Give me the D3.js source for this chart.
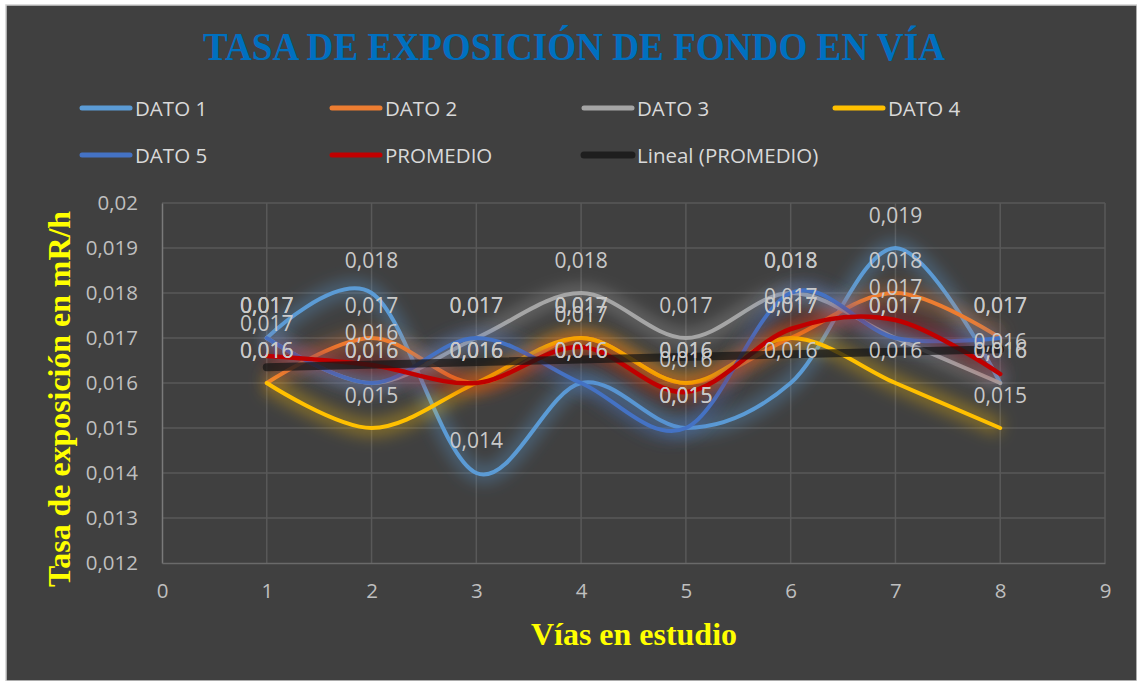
<!DOCTYPE html>
<html>
<head>
<meta charset="utf-8">
<script src="https://cdn.jsdelivr.net/npm/d3@7"></script>
<style>
  html, body { margin: 0; padding: 0; background: #ffffff; }
  svg { display: block; }
</style>
</head>
<body>
<svg id="chart" width="1137" height="681"></svg>
<script>
// ---------- DATA ----------
const xValues   = [1, 2, 3, 4, 5, 6, 7, 8];
const dato1     = [0.017, 0.018, 0.014, 0.016, 0.015, 0.016, 0.019, 0.016];
const dato2     = [0.016, 0.017, 0.016, 0.017, 0.016, 0.017, 0.018, 0.017];
const dato3     = [0.017, 0.016, 0.017, 0.018, 0.017, 0.018, 0.017, 0.016];
const dato4     = [0.016, 0.015, 0.016, 0.017, 0.016, 0.017, 0.016, 0.015];
const dato5     = [0.017, 0.016, 0.017, 0.016, 0.015, 0.018, 0.017, 0.017];
const promedio  = [0.0166, 0.0164, 0.0160, 0.0168, 0.0158, 0.0172, 0.0174, 0.0162];
const seriesNames  = ["DATO 1", "DATO 2", "DATO 3", "DATO 4", "DATO 5", "PROMEDIO"];
const seriesColors = ["#5B9BD5", "#ED7D31", "#A5A5A5", "#FFC000", "#4472C4", "#C00000"];
const trendName = "Lineal (PROMEDIO)";
const xTicks = [0, 1, 2, 3, 4, 5, 6, 7, 8, 9];
const yTicks = [0.012, 0.013, 0.014, 0.015, 0.016, 0.017, 0.018, 0.019, 0.02];
const yTickLabels = ["0,012", "0,013", "0,014", "0,015", "0,016", "0,017", "0,018", "0,019", "0,02"];
const titleText = "TASA DE EXPOSICIÓN DE FONDO EN VÍA";
const xTitle = "Vías en estudio";
const yTitle = "Tasa de exposición en mR/h";

// ---------- SETUP ----------
const svg = d3.select("#chart");
const W = 1137, H = 681;
const sans = "'Open Sans', 'Noto Sans', sans-serif";
const serif = "'Liberation Serif', 'DejaVu Serif', serif";

// frame
svg.append("rect").attr("x", 0).attr("y", 0).attr("width", W).attr("height", H).attr("fill", "#ffffff");
svg.append("rect").attr("x", 6).attr("y", 5).attr("width", W - 6).attr("height", H - 5)
  .attr("fill", "#404040").attr("stroke", "#d0d0d0").attr("stroke-width", 1.5);

const x = d3.scaleLinear().domain([0, 9]).range([162, 1105]);
const y = d3.scaleLinear().domain([0.012, 0.02]).range([563, 203]);

const defs = svg.append("defs");
const f = defs.append("filter").attr("id", "glow")
  .attr("x", "-20%").attr("y", "-60%").attr("width", "140%").attr("height", "220%");
f.append("feGaussianBlur").attr("in", "SourceGraphic").attr("stdDeviation", 8);

// title
svg.append("text").attr("x", 574).attr("y", 60).attr("text-anchor", "middle")
  .attr("font-family", serif).attr("font-weight", "bold").attr("font-size", 40)
  .attr("fill", "#0070C0").attr("textLength", 742).attr("lengthAdjust", "spacingAndGlyphs")
  .text(titleText);

// gridlines
const grid = svg.append("g");
grid.selectAll("line.h").data(yTicks.slice(1)).join("line")
  .attr("x1", x(0)).attr("x2", x(9)).attr("y1", d => y(d)).attr("y2", d => y(d))
  .attr("stroke", "#595959").attr("stroke-width", 1.5);
grid.selectAll("line.v").data(xTicks.slice(1)).join("line")
  .attr("x1", d => x(d)).attr("x2", d => x(d)).attr("y1", y(0.02)).attr("y2", y(0.012))
  .attr("stroke", "#595959").attr("stroke-width", 1.5);

// axes (D3 axes, styled)
const yAxis = d3.axisLeft(y).tickValues(yTicks).tickFormat((d, i) => yTickLabels[i]).tickSize(0).tickPadding(24);
const gy = svg.append("g").attr("transform", `translate(${x(0)},0)`).call(yAxis);
gy.select(".domain").attr("stroke", "#7a7a7a").attr("stroke-width", 1.5);
gy.selectAll("text").attr("font-family", sans).attr("font-size", 20.5).attr("fill", "#BFBFBF");

const xAxis = d3.axisBottom(x).tickValues(xTicks).tickFormat(d3.format("d")).tickSize(0).tickPadding(20);
const gx = svg.append("g").attr("transform", `translate(0,${y(0.012)})`).call(xAxis);
gx.select(".domain").attr("stroke", "#6a6a6a").attr("stroke-width", 1.5);
gx.selectAll("text").attr("font-family", sans).attr("font-size", 20.5).attr("fill", "#BFBFBF");

// axis titles
svg.append("text").attr("x", 634).attr("y", 645).attr("text-anchor", "middle")
  .attr("font-family", serif).attr("font-weight", "bold").attr("font-size", 32)
  .attr("fill", "#FFFF00").attr("textLength", 206).attr("lengthAdjust", "spacingAndGlyphs")
  .text(xTitle);
svg.append("text").attr("transform", "translate(70,399) rotate(-90)").attr("text-anchor", "middle")
  .attr("font-family", serif).attr("font-weight", "bold").attr("font-size", 31)
  .attr("fill", "#FFFF00").attr("textLength", 376).attr("lengthAdjust", "spacingAndGlyphs")
  .text(yTitle);

// series lines
const allSeries = [dato1, dato2, dato3, dato4, dato5, promedio];
const line = d3.line().x((d, i) => x(xValues[i])).y(d => y(d)).curve(d3.curveCardinal.tension(0));
const plot = svg.append("g");
allSeries.forEach((s, k) => {
  plot.append("path").datum(s).attr("d", line).attr("fill", "none")
    .attr("stroke", seriesColors[k]).attr("stroke-width", 16).attr("stroke-opacity", 0.38)
    .attr("filter", "url(#glow)");
  plot.append("path").datum(s).attr("d", line).attr("fill", "none")
    .attr("stroke", seriesColors[k]).attr("stroke-width", k === 5 ? 4.5 : 4)
    .attr("stroke-linecap", "round").attr("stroke-linejoin", "round");
});

// linear trendline of PROMEDIO
const n = xValues.length;
const mx = d3.mean(xValues), my = d3.mean(promedio);
const slope = d3.sum(xValues.map((xv, i) => (xv - mx) * (promedio[i] - my))) / d3.sum(xValues.map(xv => (xv - mx) ** 2));
const icpt = my - slope * mx;
const trendX = [xValues[0], xValues[n - 1]];
plot.append("line")
  .attr("x1", x(trendX[0])).attr("y1", y(icpt + slope * trendX[0]))
  .attr("x2", x(trendX[1])).attr("y2", y(icpt + slope * trendX[1]))
  .attr("stroke", "#151515").attr("stroke-opacity", 0.72).attr("stroke-width", 8)
  .attr("stroke-linecap", "round");

// data labels
const fmt = v => v.toFixed(3).replace(".", ",");
const labels = svg.append("g");
allSeries.forEach((s, k) => {
  labels.selectAll(null).data(s).join("text")
    .attr("x", (d, i) => x(xValues[i])).attr("y", d => y(d) - 33)
    .attr("text-anchor", "middle").attr("dominant-baseline", "central")
    .attr("font-family", sans).attr("font-size", 21).attr("fill", "#C9C9C9")
    .text(d => fmt(d));
});

// legend
const legendItems = seriesNames.map((nm, k) => ({ name: nm, color: seriesColors[k], w: 5 }))
  .concat([{ name: trendName, color: "#1e1e1e", w: 7 }]);
const legendX = [80, 330, 582, 833];
const legendY = [108, 155];
const lg = svg.append("g");
legendItems.forEach((it, i) => {
  const lx = legendX[i % 4], ly = legendY[Math.floor(i / 4)];
  lg.append("line").attr("x1", lx + 2).attr("x2", lx + 50).attr("y1", ly).attr("y2", ly)
    .attr("stroke", it.color).attr("stroke-width", it.w).attr("stroke-linecap", "round");
  lg.append("text").attr("x", lx + 55).attr("y", ly).attr("dominant-baseline", "central")
    .attr("font-family", sans).attr("font-size", 20.5).attr("fill", "#D9D9D9").text(it.name);
});
</script>
</body>
</html>
